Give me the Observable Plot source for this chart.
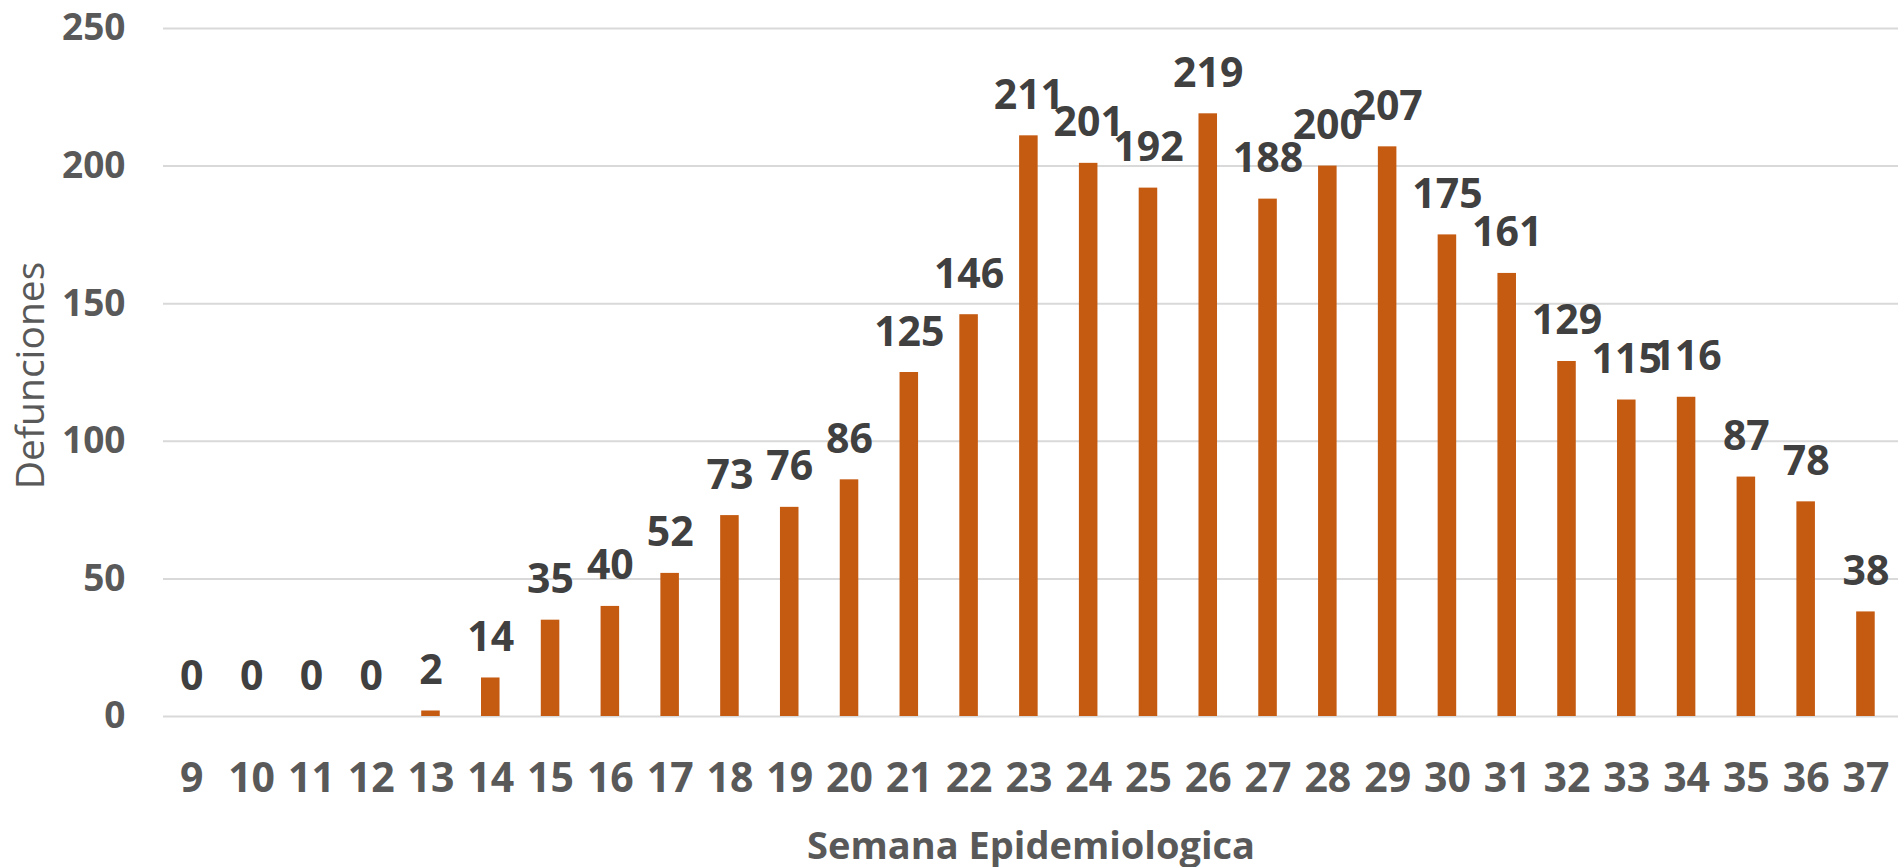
<!DOCTYPE html>
<html>
<head>
<meta charset="utf-8">
<script src="https://cdn.jsdelivr.net/npm/d3@7"></script>
<script src="https://cdn.jsdelivr.net/npm/@observablehq/plot@0.6"></script>
<style>
  html, body { margin: 0; padding: 0; background: #fff; }
  #chart svg { display: block; }
</style>
</head>
<body>
<div id="chart"></div>
<script>
const semanas = [9,10,11,12,13,14,15,16,17,18,19,20,21,22,23,24,25,26,27,28,29,30,31,32,33,34,35,36,37];
const defunciones = [0,0,0,0,2,14,35,40,52,73,76,86,125,146,211,201,192,219,188,200,207,175,161,129,115,116,87,78,38];
const yTicks = [0,50,100,150,200,250];
const xTitle = "Semana Epidemiologica";
const yTitle = "Defunciones";

const data = semanas.map((s, i) => ({semana: String(s), valor: defunciones[i]}));

const chart = Plot.plot({
  width: 1898,
  height: 867,
  marginLeft: 163,
  marginRight: 0,
  marginTop: 28,
  marginBottom: 151,
  style: {fontFamily: "'Open Sans', sans-serif", background: "#fff", overflow: "visible"},
  x: {domain: semanas.map(String), paddingInner: 0.69, paddingOuter: 0.354, align: 0.45, round: false},
  y: {domain: [0, 250]},
  marks: [
    Plot.ruleY(yTicks, {stroke: "#d9d9d9", strokeWidth: 2}),
    Plot.barY(data, {x: "semana", y: "valor", fill: "#C55A11"}),
    Plot.text(data, {x: "semana", y: "valor", text: d => String(d.valor), lineAnchor: "bottom", dy: -27,
      fill: "#404040", fontSize: 41, fontWeight: "bold"}),
    Plot.axisY({ticks: yTicks, tickSize: 0, tickPadding: 38, fontSize: 37, fontWeight: "bold", color: "#595959", label: null}),
    Plot.axisX({tickSize: 0, tickPadding: 46, fontSize: 41, fontWeight: "bold", color: "#595959", label: null}),
    Plot.text([xTitle], {frameAnchor: "bottom", dy: 142, lineAnchor: "bottom", text: d => d,
      fill: "#595959", fontSize: 38, fontWeight: "bold"}),
    Plot.text([yTitle], {frameAnchor: "left", dx: -120, dy: 3, rotate: -90, textAnchor: "middle", lineAnchor: "bottom", text: d => d,
      fill: "#595959", fontSize: 39})
  ]
});
document.getElementById("chart").append(chart);
</script>
</body>
</html>
